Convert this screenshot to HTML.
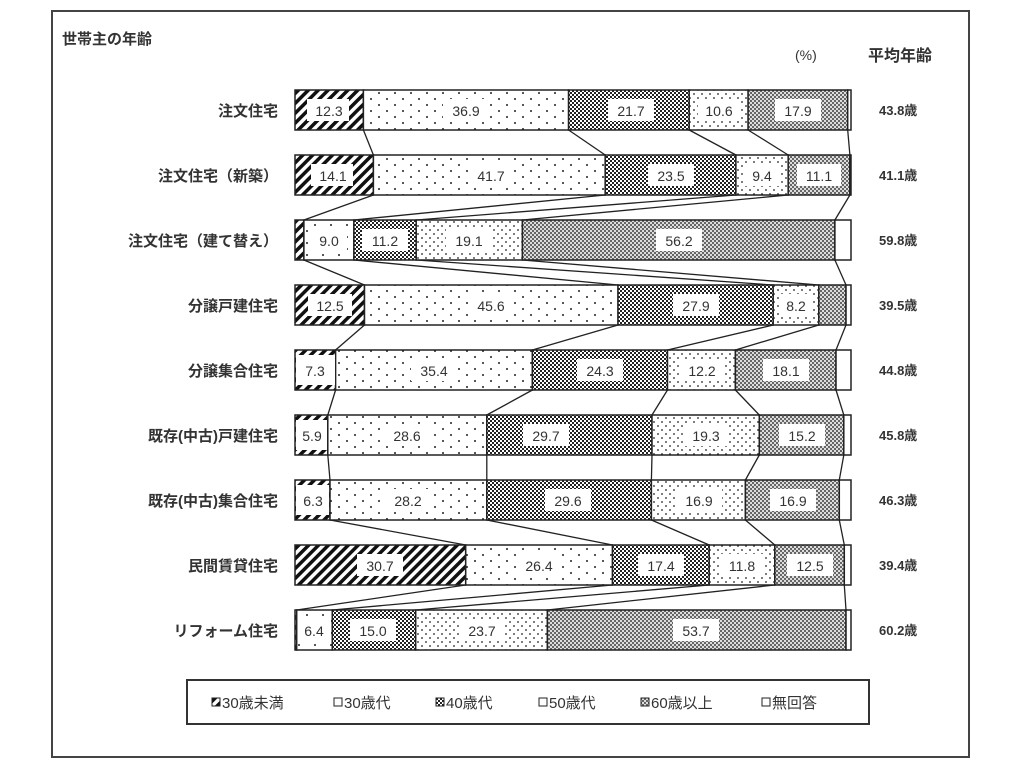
<!DOCTYPE html>
<html><head><meta charset="utf-8"><style>
body{margin:0;background:#fff;width:1024px;height:768px;overflow:hidden}
svg{display:block}
text{font-family:"Liberation Sans","Noto Sans CJK JP",sans-serif;fill:#333}
.lb{font-size:15px;font-weight:bold;text-anchor:end}
.v{font-size:14px;text-anchor:middle}
.m{font-size:12px;font-weight:bold}
</style></head><body>
<svg width="1024" height="768" viewBox="0 0 1024 768">
<defs>
<pattern id="p1" width="7" height="7" patternUnits="userSpaceOnUse" patternTransform="rotate(45)"><rect width="7" height="7" fill="#fff"/><rect width="3.5" height="7" fill="#111"/></pattern>
<pattern id="p2" width="16" height="12" patternUnits="userSpaceOnUse"><rect width="16" height="12" fill="#fff"/><circle cx="3" cy="3" r="1" fill="#222"/><circle cx="11" cy="9" r="1" fill="#222"/></pattern>
<pattern id="p3" width="4" height="4" patternUnits="userSpaceOnUse"><rect width="4" height="4" fill="#222"/><rect width="2" height="2" fill="#fff"/><rect x="2" y="2" width="2" height="2" fill="#fff"/></pattern>
<pattern id="p4" width="8" height="8" patternUnits="userSpaceOnUse"><rect width="8" height="8" fill="#fff"/><circle cx="2" cy="2" r="0.9" fill="#222"/><circle cx="6" cy="6" r="0.9" fill="#222"/></pattern>
<pattern id="p5" width="4" height="4" patternUnits="userSpaceOnUse"><rect width="4" height="4" fill="#666"/><rect width="2" height="2" fill="#ddd"/><rect x="2" y="2" width="2" height="2" fill="#ddd"/></pattern>
</defs>
<rect x="52" y="11" width="917" height="746" fill="none" stroke="#444" stroke-width="2"/>
<text x="62" y="44" style="font-size:15px;font-weight:bold">世帯主の年齢</text>
<text x="795" y="60" style="font-size:14px">(%)</text>
<text x="868" y="61" style="font-size:16px;font-weight:bold">平均年齢</text>

<g stroke="#222" stroke-width="1.3" fill="none">
<path d="M363.4 130L373.4 155M568.6 130L605.2 155M689.2 130L735.9 155M748.1 130L788.2 155M847.7 130L849.9 155"/>
<path d="M373.4 195L303.9 220M605.2 195L353.9 220M735.9 195L416.2 220M788.2 195L522.4 220M849.9 195L834.9 220"/>
<path d="M303.9 260L364.5 285M353.9 260L618 285M416.2 260L773.2 285M522.4 260L818.8 285M834.9 260L846 285"/>
<path d="M364.5 325L335.6 350M618 325L532.4 350M773.2 325L667.5 350M818.8 325L735.4 350M846 325L836 350"/>
<path d="M335.6 390L327.8 415M532.4 390L486.8 415M667.5 390L652 415M735.4 390L759.3 415M836 390L843.8 415"/>
<path d="M327.8 455L330 480M486.8 455L486.8 480M652 455L651.4 480M759.3 455L745.4 480M843.8 455L839.3 480"/>
<path d="M330 520L465.7 545M486.8 520L612.5 545M651.4 520L709.2 545M745.4 520L774.8 545M839.3 520L844.3 545"/>
<path d="M465.7 585L296.7 610M612.5 585L332.3 610M709.2 585L415.7 610M774.8 585L547.4 610M844.3 585L846 610"/>
</g>

<g stroke="#222" stroke-width="1.5">
<rect x="295" y="90" width="68.4" height="40" fill="url(#p1)"/><rect x="363.4" y="90" width="205.2" height="40" fill="url(#p2)"/><rect x="568.6" y="90" width="120.6" height="40" fill="url(#p3)"/><rect x="689.2" y="90" width="58.9" height="40" fill="url(#p4)"/><rect x="748.1" y="90" width="99.6" height="40" fill="url(#p5)"/><rect x="847.7" y="90" width="3.3" height="40" fill="#fff"/>
<rect x="295" y="155" width="78.4" height="40" fill="url(#p1)"/><rect x="373.4" y="155" width="231.8" height="40" fill="url(#p2)"/><rect x="605.2" y="155" width="130.7" height="40" fill="url(#p3)"/><rect x="735.9" y="155" width="52.3" height="40" fill="url(#p4)"/><rect x="788.2" y="155" width="61.7" height="40" fill="url(#p5)"/><rect x="849.9" y="155" width="1.1" height="40" fill="#fff"/>
<rect x="295" y="220" width="8.9" height="40" fill="url(#p1)"/><rect x="303.9" y="220" width="50" height="40" fill="url(#p2)"/><rect x="353.9" y="220" width="62.3" height="40" fill="url(#p3)"/><rect x="416.2" y="220" width="106.2" height="40" fill="url(#p4)"/><rect x="522.4" y="220" width="312.5" height="40" fill="url(#p5)"/><rect x="834.9" y="220" width="16.1" height="40" fill="#fff"/>
<rect x="295" y="285" width="69.5" height="40" fill="url(#p1)"/><rect x="364.5" y="285" width="253.5" height="40" fill="url(#p2)"/><rect x="618" y="285" width="155.2" height="40" fill="url(#p3)"/><rect x="773.2" y="285" width="45.6" height="40" fill="url(#p4)"/><rect x="818.8" y="285" width="27.2" height="40" fill="url(#p5)"/><rect x="846" y="285" width="5" height="40" fill="#fff"/>
<rect x="295" y="350" width="40.6" height="40" fill="url(#p1)"/><rect x="335.6" y="350" width="196.8" height="40" fill="url(#p2)"/><rect x="532.4" y="350" width="135.1" height="40" fill="url(#p3)"/><rect x="667.5" y="350" width="67.9" height="40" fill="url(#p4)"/><rect x="735.4" y="350" width="100.6" height="40" fill="url(#p5)"/><rect x="836" y="350" width="15" height="40" fill="#fff"/>
<rect x="295" y="415" width="32.8" height="40" fill="url(#p1)"/><rect x="327.8" y="415" width="159" height="40" fill="url(#p2)"/><rect x="486.8" y="415" width="165.2" height="40" fill="url(#p3)"/><rect x="652" y="415" width="107.3" height="40" fill="url(#p4)"/><rect x="759.3" y="415" width="84.5" height="40" fill="url(#p5)"/><rect x="843.8" y="415" width="7.2" height="40" fill="#fff"/>
<rect x="295" y="480" width="35" height="40" fill="url(#p1)"/><rect x="330" y="480" width="156.8" height="40" fill="url(#p2)"/><rect x="486.8" y="480" width="164.6" height="40" fill="url(#p3)"/><rect x="651.4" y="480" width="94" height="40" fill="url(#p4)"/><rect x="745.4" y="480" width="93.9" height="40" fill="url(#p5)"/><rect x="839.3" y="480" width="11.7" height="40" fill="#fff"/>
<rect x="295" y="545" width="170.7" height="40" fill="url(#p1)"/><rect x="465.7" y="545" width="146.8" height="40" fill="url(#p2)"/><rect x="612.5" y="545" width="96.7" height="40" fill="url(#p3)"/><rect x="709.2" y="545" width="65.6" height="40" fill="url(#p4)"/><rect x="774.8" y="545" width="69.5" height="40" fill="url(#p5)"/><rect x="844.3" y="545" width="6.7" height="40" fill="#fff"/>
<rect x="295" y="610" width="1.7" height="40" fill="url(#p1)"/><rect x="296.7" y="610" width="35.6" height="40" fill="url(#p2)"/><rect x="332.3" y="610" width="83.4" height="40" fill="url(#p3)"/><rect x="415.7" y="610" width="131.7" height="40" fill="url(#p4)"/><rect x="547.4" y="610" width="298.6" height="40" fill="url(#p5)"/><rect x="846" y="610" width="5" height="40" fill="#fff"/>
</g>

<g fill="#fff">
<rect x="307" y="99" width="42" height="22"/><rect x="443" y="99" width="46" height="22"/><rect x="608" y="99" width="46" height="22"/><rect x="698" y="99" width="42" height="22"/><rect x="775" y="99" width="46" height="22"/>
<rect x="311" y="164" width="42" height="22"/><rect x="468" y="164" width="46" height="22"/><rect x="648" y="164" width="46" height="22"/><rect x="744" y="164" width="36" height="22"/><rect x="797" y="164" width="44" height="22"/>
<rect x="311" y="229" width="36" height="22"/><rect x="362" y="229" width="46" height="22"/><rect x="446" y="229" width="46" height="22"/><rect x="656" y="229" width="46" height="22"/>
<rect x="308" y="294" width="44" height="22"/><rect x="468" y="294" width="46" height="22"/><rect x="673" y="294" width="46" height="22"/><rect x="779" y="294" width="34" height="22"/>
<rect x="296" y="355" width="39" height="30"/><rect x="411" y="359" width="46" height="22"/><rect x="577" y="359" width="46" height="22"/><rect x="679" y="359" width="46" height="22"/><rect x="763" y="359" width="46" height="22"/>
<rect x="296" y="420" width="31" height="30"/><rect x="384" y="424" width="46" height="22"/><rect x="523" y="424" width="46" height="22"/><rect x="683" y="424" width="46" height="22"/><rect x="779" y="424" width="46" height="22"/>
<rect x="296" y="485" width="33" height="30"/><rect x="385" y="489" width="46" height="22"/><rect x="545" y="489" width="46" height="22"/><rect x="676" y="489" width="46" height="22"/><rect x="770" y="489" width="46" height="22"/>
<rect x="357" y="554" width="46" height="22"/><rect x="516" y="554" width="46" height="22"/><rect x="638" y="554" width="46" height="22"/><rect x="719" y="554" width="46" height="22"/><rect x="787" y="554" width="46" height="22"/>
<rect x="298" y="619" width="33" height="22"/><rect x="350" y="619" width="46" height="22"/><rect x="459" y="619" width="46" height="22"/><rect x="673" y="619" width="46" height="22"/>
</g>

<g class="v">
<text x="329" y="116">12.3</text><text x="466" y="116">36.9</text><text x="631" y="116">21.7</text><text x="719" y="116">10.6</text><text x="798" y="116">17.9</text>
<text x="333" y="181">14.1</text><text x="491" y="181">41.7</text><text x="671" y="181">23.5</text><text x="762" y="181">9.4</text><text x="819" y="181">11.1</text>
<text x="329" y="246">9.0</text><text x="385" y="246">11.2</text><text x="469" y="246">19.1</text><text x="679" y="246">56.2</text>
<text x="330" y="311">12.5</text><text x="491" y="311">45.6</text><text x="696" y="311">27.9</text><text x="796" y="311">8.2</text>
<text x="315" y="376">7.3</text><text x="434" y="376">35.4</text><text x="600" y="376">24.3</text><text x="702" y="376">12.2</text><text x="786" y="376">18.1</text>
<text x="312" y="441">5.9</text><text x="407" y="441">28.6</text><text x="546" y="441">29.7</text><text x="706" y="441">19.3</text><text x="802" y="441">15.2</text>
<text x="313" y="506">6.3</text><text x="408" y="506">28.2</text><text x="568" y="506">29.6</text><text x="699" y="506">16.9</text><text x="793" y="506">16.9</text>
<text x="380" y="571">30.7</text><text x="539" y="571">26.4</text><text x="661" y="571">17.4</text><text x="742" y="571">11.8</text><text x="810" y="571">12.5</text>
<text x="314" y="636">6.4</text><text x="373" y="636">15.0</text><text x="482" y="636">23.7</text><text x="696" y="636">53.7</text>
</g>

<g class="lb">
<text x="278" y="116">注文住宅</text>
<text x="278" y="181">注文住宅（新築）</text>
<text x="278" y="246">注文住宅（建て替え）</text>
<text x="278" y="311">分譲戸建住宅</text>
<text x="278" y="376">分譲集合住宅</text>
<text x="278" y="441">既存(中古)戸建住宅</text>
<text x="278" y="506">既存(中古)集合住宅</text>
<text x="278" y="571">民間賃貸住宅</text>
<text x="278" y="636">リフォーム住宅</text>
</g>
<g class="m">
<text x="879" y="115" style="font-size:13px">43.8歳</text><text x="879" y="180" style="font-size:13px">41.1歳</text><text x="879" y="245" style="font-size:13px">59.8歳</text><text x="879" y="310" style="font-size:13px">39.5歳</text><text x="879" y="375" style="font-size:13px">44.8歳</text><text x="879" y="440" style="font-size:13px">45.8歳</text><text x="879" y="505" style="font-size:13px">46.3歳</text><text x="879" y="570" style="font-size:13px">39.4歳</text><text x="879" y="635" style="font-size:13px">60.2歳</text>
</g>

<rect x="187" y="680" width="682" height="44" fill="none" stroke="#333" stroke-width="2"/>
<g style="font-size:15px">
<rect x="212" y="698" width="8" height="8" fill="url(#p1)" stroke="#222"/><text x="222" y="708">30歳未満</text>
<rect x="334" y="698" width="8" height="8" fill="#fff" stroke="#222"/><text x="344" y="708">30歳代</text>
<rect x="436" y="698" width="8" height="8" fill="url(#p3)" stroke="#222"/><text x="446" y="708">40歳代</text>
<rect x="539" y="698" width="8" height="8" fill="#fff" stroke="#222"/><text x="549" y="708">50歳代</text>
<rect x="641" y="698" width="8" height="8" fill="url(#p5)" stroke="#222"/><text x="651" y="708">60歳以上</text>
<rect x="762" y="698" width="8" height="8" fill="#fff" stroke="#222"/><text x="772" y="708">無回答</text>
</g>
</svg>
</body></html>
